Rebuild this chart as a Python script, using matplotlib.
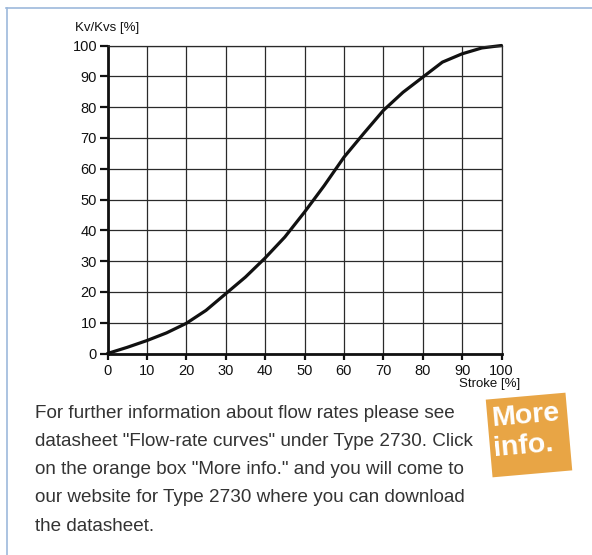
import matplotlib

matplotlib.use("Agg")
import matplotlib.pyplot as plt
from matplotlib.lines import Line2D
from matplotlib.patches import Rectangle
import matplotlib.transforms as mtransforms

# values
stroke = [0, 5, 10, 15, 20, 25, 30, 35, 40, 45, 50, 55, 60, 65, 70, 75, 80, 85, 90, 95, 100]
kv_kvs = [0, 2.0, 4.2, 6.7, 9.8, 14.0, 19.4, 24.8, 31.0, 37.8, 45.9, 54.5, 63.7,
          71.4, 78.9, 84.8, 89.7, 94.6, 97.3, 99.2, 100]
ticks = list(range(0, 101, 10))

info_lines = [
    "For further information about flow rates please see",
    'datasheet "Flow-rate curves" under Type 2730. Click',
    'on the orange box "More info." and you will come to',
    "our website for Type 2730 where you can download",
    "the datasheet.",
]

plt.rcParams["font.family"] = ["Liberation Sans", "DejaVu Sans"]

W, H = 592, 555
fig = plt.figure(figsize=(W / 100, H / 100), dpi=100)
fig.patch.set_facecolor("white")


def fx(px):
    return px / W


def fy(py):
    return 1 - py / H


ax = fig.add_axes([fx(107.5), fy(353.5), fx(501.5) - fx(107.5), fy(45.5) - fy(353.5)])
ax.set_xlim(0, 100)
ax.set_ylim(0, 100)
ax.set_xticks(ticks)
ax.set_yticks(ticks)
ax.grid(True, color="#2a2a2a", lw=0.9)
ax.set_axisbelow(True)
for side in ["top", "right"]:
    ax.spines[side].set_linewidth(0.9)
    ax.spines[side].set_color("#2a2a2a")
for side in ["left", "bottom"]:
    ax.spines[side].set_linewidth(2.0)
    ax.spines[side].set_color("#111111")
ax.tick_params(axis="y", length=6, width=1.6, pad=1.5, labelsize=10.5, colors="#111111")
ax.tick_params(axis="x", length=4, width=1.6, pad=3.5, labelsize=10.5, colors="#111111")

ax.plot(stroke, kv_kvs, color="#111111", lw=2.3, solid_capstyle="round", clip_on=False)

fig.text(fx(75), fy(28), "Kv/Kvs [%]", fontsize=9.5, va="center", ha="left", color="#111111")
fig.text(fx(520), fy(384), "Stroke [%]", fontsize=9.5, va="center", ha="right", color="#111111")

# paragraph below the chart
for i, line in enumerate(info_lines):
    fig.text(fx(35), fy(413 + i * 28.3), line, fontsize=13.6, va="center", ha="left",
             color="#333333")

# rotated orange "More info." box
cx, cy = 529, 435
rot = mtransforms.Affine2D().rotate_deg_around(cx, H - cy, 5) + mtransforms.IdentityTransform()
box = Rectangle((cx - 40, H - cy - 39), 80, 78, facecolor="#E8A545", edgecolor="none",
                transform=rot)
fig.add_artist(box)
fig.text(fx(492), fy(419), "More", fontsize=20.5, fontweight="bold", color="white",
         ha="left", va="center", rotation=5, rotation_mode="anchor")
fig.text(fx(493), fy(449), "info.", fontsize=20.5, fontweight="bold", color="white",
         ha="left", va="center", rotation=5, rotation_mode="anchor")

# light blue frame (top and left edges)
fig.add_artist(Line2D([fx(6), 1], [fy(7.5), fy(7.5)], color="#9DB9DC", lw=1.2))
fig.add_artist(Line2D([fx(6.5), fx(6.5)], [fy(7.5), 0], color="#9DB9DC", lw=1.2))

fig.savefig("out.png", dpi=100)
